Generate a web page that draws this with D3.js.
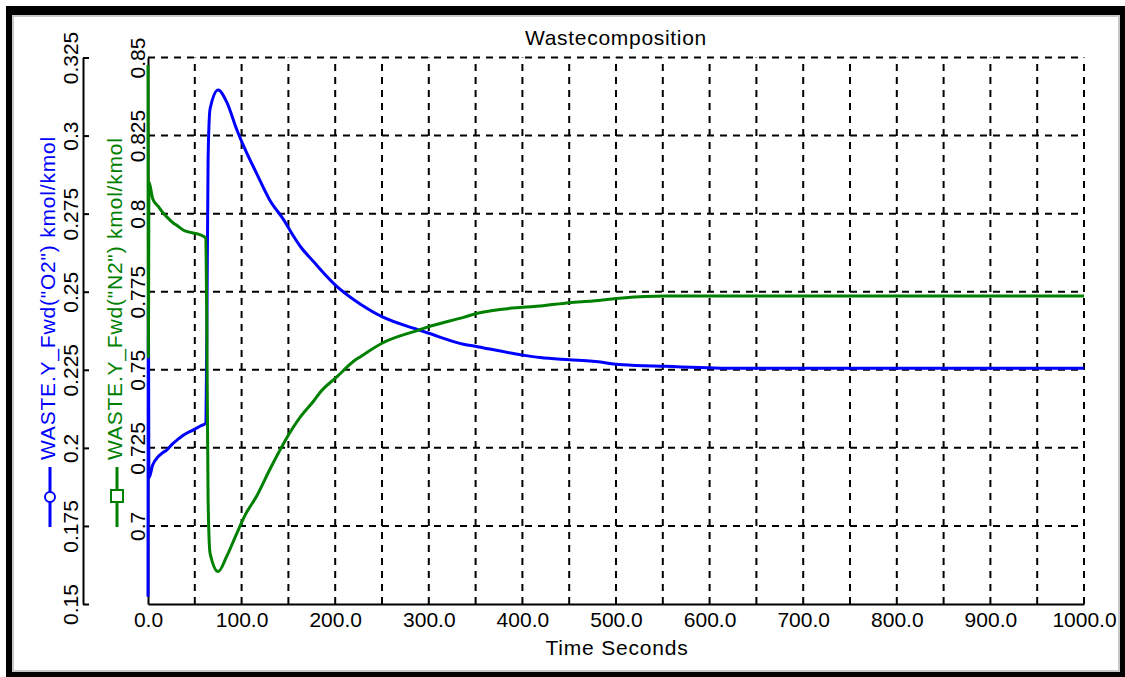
<!DOCTYPE html>
<html>
<head>
<meta charset="utf-8">
<script src="https://cdn.jsdelivr.net/npm/d3@7"></script>
<style>
  html, body { margin: 0; padding: 0; background: #fff; }
  svg { display: block; }
  text { font-family: "Liberation Sans", Arial, sans-serif; }
</style>
</head>
<body>
<svg id="chart" width="1125" height="677"></svg>
<script>
// ---------------- data ----------------
const chartTitle = "Wastecomposition";
const xTitle = "Time Seconds";
const o2Title = "WASTE.Y_Fwd(\"O2\") kmol/kmol";
const n2Title = "WASTE.Y_Fwd(\"N2\") kmol/kmol";

const xTicks = [0, 100, 200, 300, 400, 500, 600, 700, 800, 900, 1000];
const xTickLabels = ["0.0", "100.0", "200.0", "300.0", "400.0", "500.0", "600.0", "700.0", "800.0", "900.0", "1000.0"];
const xGrid = [50, 100, 150, 200, 250, 300, 350, 400, 450, 500, 550, 600, 650, 700, 750, 800, 850, 900, 950, 1000];

const o2Ticks = [0.15, 0.175, 0.2, 0.225, 0.25, 0.275, 0.3, 0.325];
const o2TickLabels = ["0.15", "0.175", "0.2", "0.225", "0.25", "0.275", "0.3", "0.325"];
const n2Ticks = [0.675, 0.7, 0.725, 0.75, 0.775, 0.8, 0.825, 0.85];
const n2TickLabels = ["", "0.7", "0.725", "0.75", "0.775", "0.8", "0.825", "0.85"];

const time = [0, 0.4, 1, 5, 11, 16, 20, 27, 31, 38, 48, 56, 61.5, 62.8, 64.2, 66.3, 75, 84, 95, 104, 116, 130, 145, 155, 163, 177, 184, 202, 220, 227, 250, 289, 300, 337, 352, 400, 419, 450, 475, 507, 553, 631, 1000];
const o2 = [0.1523, 0.246, 0.1904, 0.1945, 0.1972, 0.1985, 0.1993, 0.2015, 0.2025, 0.2041, 0.2057, 0.2070, 0.2079, 0.234, 0.2925, 0.3085, 0.3146, 0.3108, 0.3018, 0.2954, 0.2879, 0.2794, 0.2730, 0.2680, 0.2644, 0.2596, 0.2572, 0.2516, 0.2474, 0.2460, 0.2420, 0.2378, 0.2367, 0.2332, 0.2324, 0.2297, 0.2289, 0.2282, 0.2277, 0.2266, 0.2261, 0.2255, 0.2255];
const n2 = [0.8476, 0.7541, 0.8101, 0.8048, 0.8023, 0.8003, 0.7990, 0.7970, 0.7962, 0.7947, 0.7938, 0.7932, 0.7922, 0.766, 0.7083, 0.6913, 0.6854, 0.6902, 0.6977, 0.7036, 0.7095, 0.7180, 0.7265, 0.7315, 0.7350, 0.7400, 0.7428, 0.7478, 0.7528, 0.7542, 0.7585, 0.7627, 0.7638, 0.7668, 0.7681, 0.7700, 0.7704, 0.7715, 0.7720, 0.7730, 0.7736, 0.7736, 0.7736];

// ---------------- layout ----------------
const W = 1125, H = 677;
const plot = { left: 148, right: 1084, top: 57.5, bottom: 604 };
const BLUE = "#0000ff", GREEN = "#008000";
const FONT = 21;

const svg = d3.select("#chart");

// window-like frame
svg.append("rect").attr("x", 6).attr("y", 6).attr("width", W - 6).attr("height", H - 6).attr("fill", "#000");
svg.append("rect").attr("x", 12).attr("y", 15).attr("width", 1108).attr("height", 657).attr("fill", "#c8c8c8");
svg.append("rect").attr("x", 14).attr("y", 17).attr("width", 1104).attr("height", 653).attr("fill", "#fff");

// scales
const x = d3.scaleLinear().domain([0, 1000]).range([plot.left, plot.right]);
const yO2 = d3.scaleLinear().domain([0.15, 0.325]).range([plot.bottom, plot.top]);
const yN2 = d3.scaleLinear().domain([0.675, 0.85]).range([plot.bottom, plot.top]);

// grid
const grid = svg.append("g").attr("stroke", "#000").attr("stroke-width", 2).attr("stroke-dasharray", "7,6").attr("fill", "none");
grid.selectAll("line.v").data(xGrid).join("line")
  .attr("x1", d => x(d)).attr("x2", d => x(d))
  .attr("y1", plot.bottom).attr("y2", plot.top);
grid.selectAll("line.h").data(o2Ticks.slice(1)).join("line")
  .attr("x1", plot.left).attr("x2", plot.right)
  .attr("y1", d => yO2(d)).attr("y2", d => yO2(d));

// x axis
const xAxis = svg.append("g").attr("transform", `translate(0,${plot.bottom})`)
  .call(d3.axisBottom(x).tickValues(xTicks).tickSize(0).tickSizeOuter(0)
    .tickFormat((d, i) => xTickLabels[i]));
xAxis.select(".domain").attr("stroke", "#000").attr("stroke-width", 2);
xAxis.selectAll("text").attr("y", 23).attr("dy", 0)
  .attr("font-size", FONT).attr("fill", "#000").attr("font-family", "Liberation Sans, Arial, sans-serif");

// N2 axis (plot left edge)
const n2Axis = svg.append("g").attr("transform", `translate(${plot.left},0)`)
  .call(d3.axisLeft(yN2).tickValues(n2Ticks).tickSize(0).tickSizeOuter(0)
    .tickFormat((d, i) => n2TickLabels[i]));
n2Axis.select(".domain").attr("stroke", "#000").attr("stroke-width", 2);
n2Axis.selectAll("text").attr("x", 0).attr("dy", 0)
  .attr("transform", "translate(-3,0) rotate(-90)")
  .attr("text-anchor", "middle")
  .attr("font-size", FONT).attr("fill", "#000").attr("font-family", "Liberation Sans, Arial, sans-serif");

// O2 axis (outer)
const o2Axis = svg.append("g").attr("transform", "translate(83,0)")
  .call(d3.axisRight(yO2).tickValues(o2Ticks).tickSize(6).tickSizeOuter(0)
    .tickFormat((d, i) => o2TickLabels[i]));
o2Axis.select(".domain").attr("stroke", "#000").attr("stroke-width", 2);
o2Axis.selectAll(".tick line").attr("stroke", "#000").attr("stroke-width", 2);
o2Axis.selectAll("text").attr("x", 0).attr("dy", 0)
  .attr("transform", "translate(-5,0) rotate(-90)")
  .attr("text-anchor", "middle")
  .attr("font-size", FONT).attr("fill", "#000").attr("font-family", "Liberation Sans, Arial, sans-serif");

// series lines
const lineO2 = d3.line().x((d, i) => x(time[i])).y(d => yO2(d)).curve(d3.curveMonotoneX);
const lineN2 = d3.line().x((d, i) => x(time[i])).y(d => yN2(d)).curve(d3.curveMonotoneX);
svg.append("path").datum(o2).attr("d", lineO2)
  .attr("fill", "none").attr("stroke", BLUE).attr("stroke-width", 3).attr("stroke-linejoin", "round");
svg.append("path").datum(n2).attr("d", lineN2)
  .attr("fill", "none").attr("stroke", GREEN).attr("stroke-width", 3).attr("stroke-linejoin", "round");

// title
svg.append("text").attr("x", (plot.left + plot.right) / 2).attr("y", 45)
  .attr("text-anchor", "middle").attr("font-size", FONT).attr("letter-spacing", 0.7)
  .attr("fill", "#000").text(chartTitle);

// x title
svg.append("text").attr("x", (plot.left + plot.right) / 2 + 1).attr("y", 655)
  .attr("text-anchor", "middle").attr("font-size", FONT).attr("letter-spacing", 0.8)
  .attr("fill", "#000").text(xTitle);

// y titles with legend markers
function yTitle(baseX, startY, label, color, markerX, shape) {
  svg.append("text").attr("transform", `translate(${baseX},${startY}) rotate(-90)`)
    .attr("text-anchor", "start").attr("font-size", FONT).attr("letter-spacing", 0.8)
    .attr("fill", color).text(label);
  svg.append("line").attr("x1", markerX).attr("x2", markerX).attr("y1", 467).attr("y2", 527)
    .attr("stroke", color).attr("stroke-width", 3);
  if (shape === "circle") {
    svg.append("circle").attr("cx", markerX).attr("cy", 497).attr("r", 5)
      .attr("fill", "#fff").attr("stroke", color).attr("stroke-width", 2);
  } else {
    svg.append("rect").attr("x", markerX - 6).attr("y", 490).attr("width", 12).attr("height", 12)
      .attr("fill", "#fff").attr("stroke", color).attr("stroke-width", 2);
  }
}
yTitle(55, 460, o2Title, BLUE, 50, "circle");
yTitle(122, 460, n2Title, GREEN, 117, "square");
</script>
</body>
</html>
